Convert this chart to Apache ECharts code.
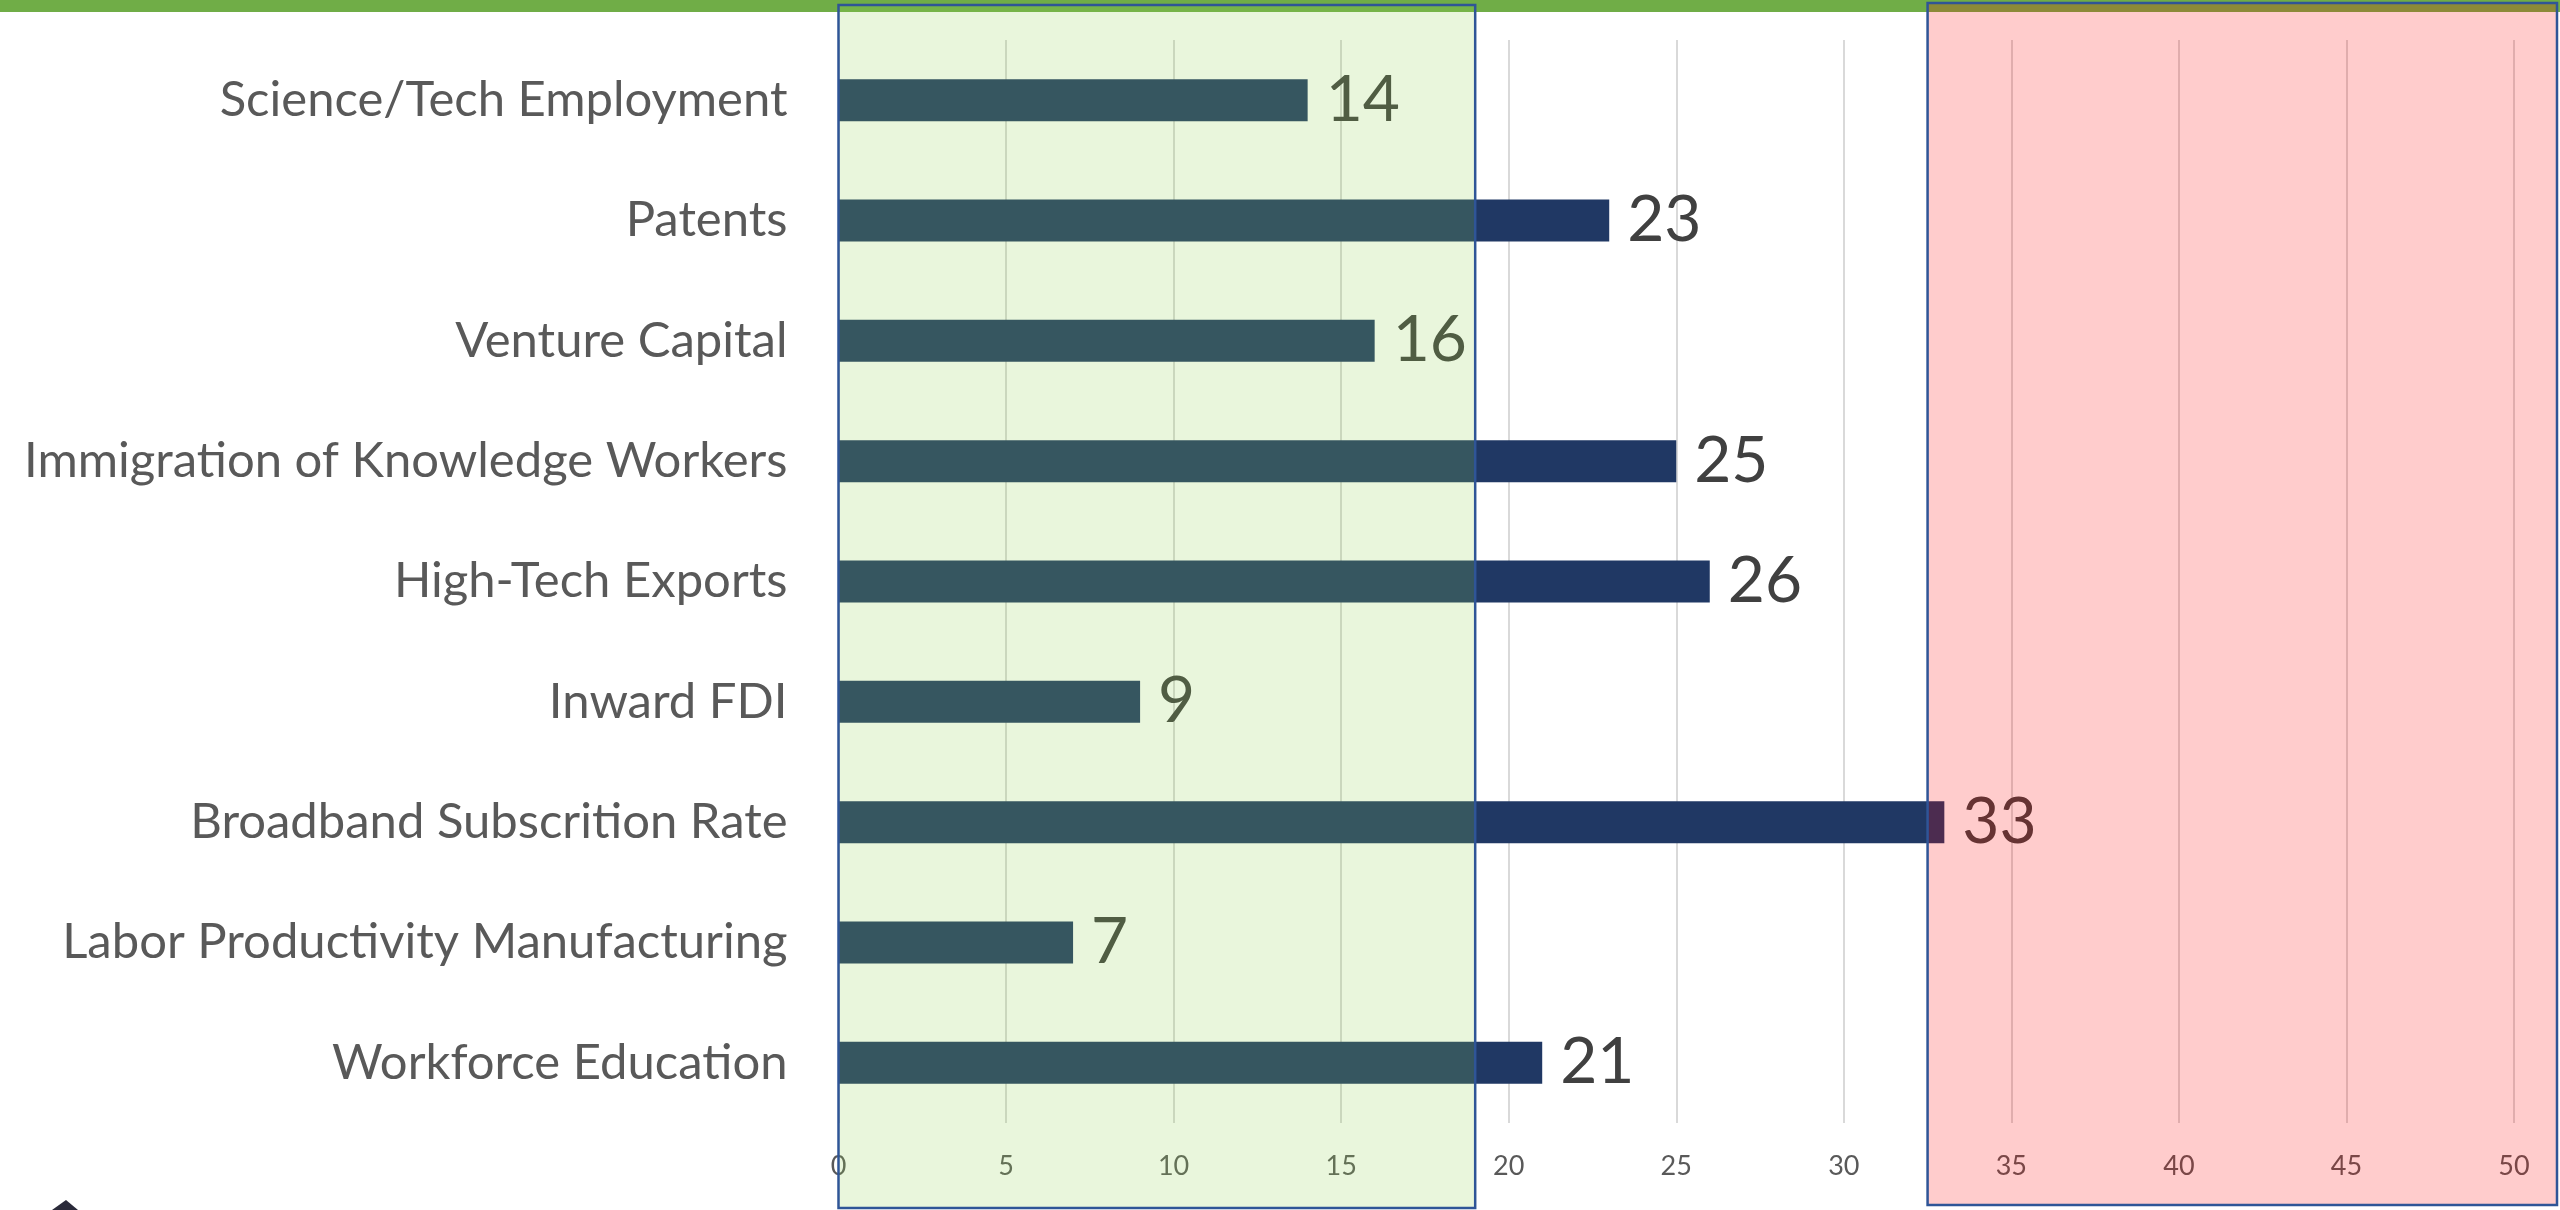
<!DOCTYPE html>
<html>
<head>
<meta charset="utf-8">
<script src="https://cdn.jsdelivr.net/npm/echarts@6/dist/echarts.min.js"></script>
<style>
  html, body { margin: 0; padding: 0; background: #fff; }
  #chart { width: 2560px; height: 1210px; }
</style>
</head>
<body>
<div id="chart"></div>
<script>
// categories, top to bottom
const categories = [
  'Science/Tech Employment',
  'Patents',
  'Venture Capital',
  'Immigration of Knowledge Workers',
  'High-Tech Exports',
  'Inward FDI',
  'Broadband Subscrition Rate',
  'Labor Productivity Manufacturing',
  'Workforce Education'
]
const values = [14, 23, 16, 25, 26, 9, 33, 7, 21]

// highlighted ranges on the value axis
const goodRange = [0, 19]
const badStart = 32.5

const font = 'Lato, "Open Sans", sans-serif'

let chart = echarts.init(document.getElementById('chart'))
chart.setOption({
  backgroundColor: '#ffffff',
  animation: false,
  grid: {
    left: 838.5,
    right: 46,
    top: 40,
    bottom: 87,
  },
  xAxis: {
    type: 'value',
    min: 0,
    max: 50,
    interval: 5,
    axisLine: { show: false },
    axisTick: { show: false },
    axisLabel: {
      color: '#595959',
      fontFamily: font,
      fontSize: 27,
      margin: 30,
    },
    splitLine: {
      lineStyle: { color: '#D9D9D9', width: 2 },
    },
  },
  yAxis: {
    type: 'category',
    data: categories,
    inverse: true,
    axisLine: { show: false },
    axisTick: { show: false },
    axisLabel: {
      color: '#595959',
      fontFamily: font,
      fontSize: 49,
      margin: 51,
      padding: [4, 0, 0, 0],
    },
  },
  series: [
    {
      type: 'bar',
      data: values,
      barWidth: 42,
      itemStyle: { color: '#203864' },
      label: {
        show: true,
        position: 'right',
        distance: 18,
        color: '#404040',
        fontFamily: font,
        fontSize: 64,
        padding: [4, 0, 0, 0],
      },
    },
  ],
})

// overlay boxes, placed with the axis scale
const px = v => chart.convertToPixel({ xAxisIndex: 0 }, v)
const g0 = px(goodRange[0])
const g1 = px(goodRange[1])
const b0 = px(badStart)

chart.setOption({
  graphic: [
    {
      type: 'rect',
      z: 50,
      shape: { x: 0, y: 0, width: 2560, height: 12 },
      style: { fill: '#70AD47' },
    },
    {
      type: 'rect',
      z: 100,
      shape: { x: g0, y: 5, width: g1 - g0, height: 1203 },
      style: { fill: 'rgba(146,208,80,0.2)', stroke: '#2F5597', lineWidth: 2.5 },
    },
    {
      type: 'rect',
      z: 100,
      shape: { x: b0, y: 3, width: 2557 - b0, height: 1202 },
      style: { fill: 'rgba(255,0,0,0.2)', stroke: '#2F5597', lineWidth: 2.5 },
    },
    {
      type: 'polygon',
      z: 50,
      shape: { points: [[52, 1210], [66, 1200], [78, 1210]] },
      style: { fill: '#2a2a3a' },
    },
  ],
})
</script>
</body>
</html>
